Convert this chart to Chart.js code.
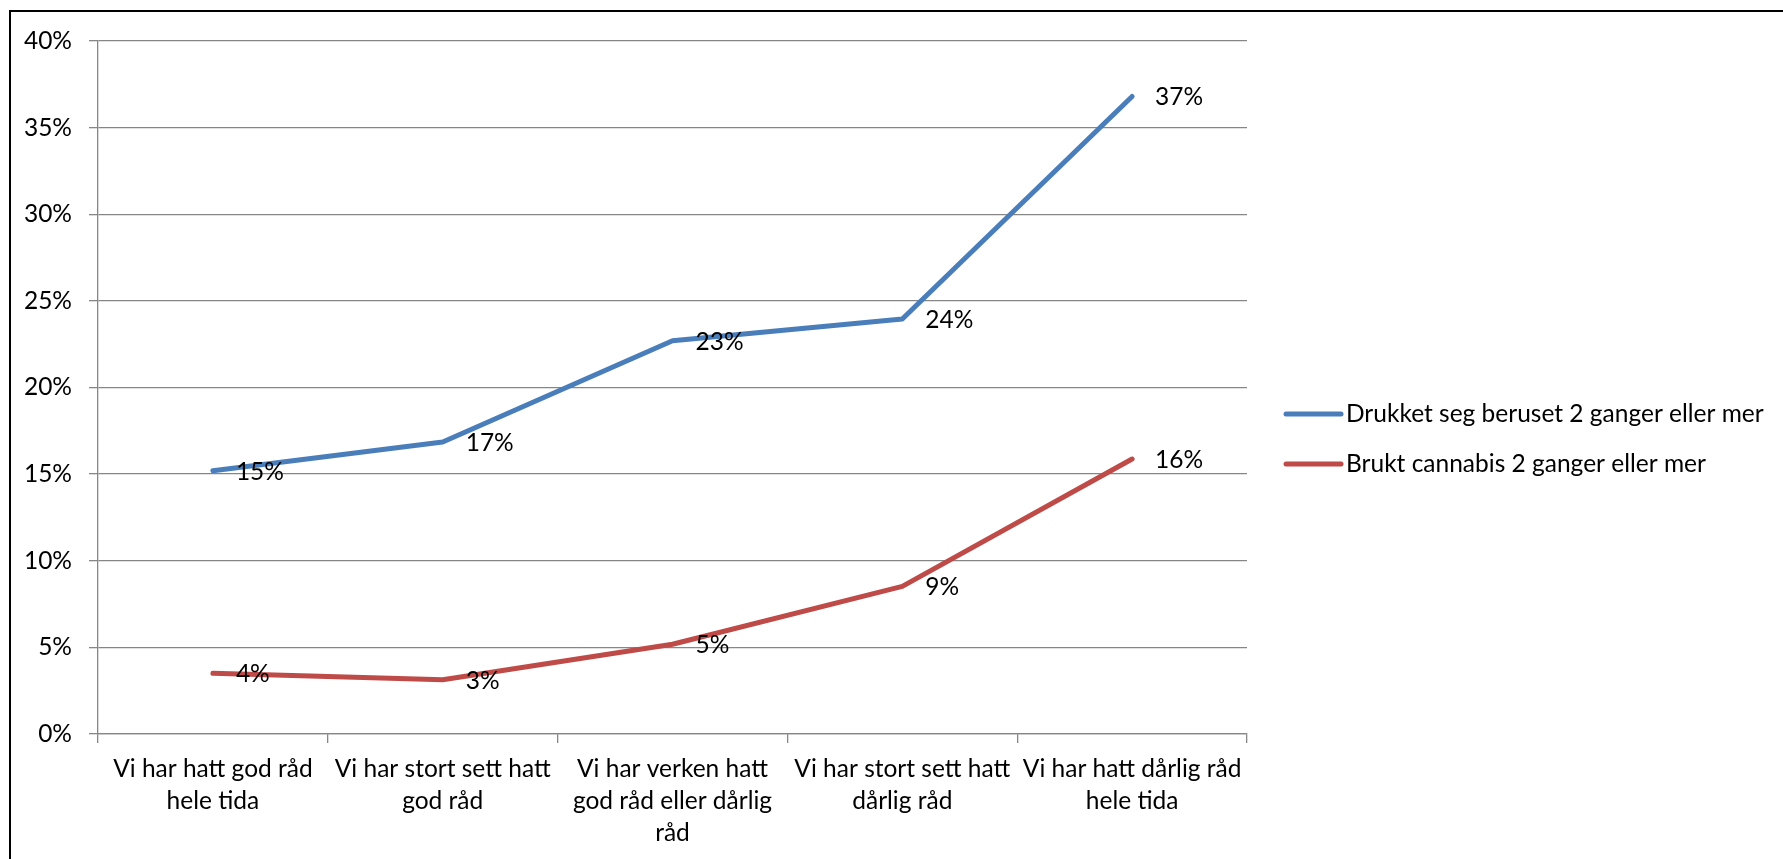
<!DOCTYPE html>
<html><head><meta charset="utf-8">
<script src="https://cdn.jsdelivr.net/npm/chart.js@4.4.1/dist/chart.umd.min.js"></script>
<style>
html,body{margin:0;padding:0;background:#fff;overflow:hidden}
#wrap{position:absolute;left:0;top:0;width:1783px;height:859px;overflow:hidden}
#frame{position:absolute;left:9px;top:10px;width:1800px;height:900px;border-top:2px solid #000;border-left:2px solid #000}
canvas{position:absolute;left:0;top:0}
</style></head><body>
<div id="wrap"><div id="frame"></div><canvas id="c" width="1783" height="859"></canvas></div>
<script>
const categories = [
  ["Vi har hatt god råd", "hele tida"],
  ["Vi har stort sett hatt", "god råd"],
  ["Vi har verken hatt", "god råd eller dårlig", "råd"],
  ["Vi har stort sett hatt", "dårlig råd"],
  ["Vi har hatt dårlig råd", "hele tida"]
];
const seriesNames = ["Drukket seg beruset 2 ganger eller mer", "Brukt cannabis 2 ganger eller mer"];
const drukketValues = [15.2, 16.85, 22.7, 23.95, 36.8];
const cannabisValues = [3.5, 3.13, 5.18, 8.52, 15.87];
const dataLabelsDrukket = ["15%", "17%", "23%", "24%", "37%"];
const dataLabelsCannabis = ["4%", "3%", "5%", "9%", "16%"];
const yTickValues = [0, 5, 10, 15, 20, 25, 30, 35, 40];
const seriesColors = ["#4A7EBB", "#BE4B48"];

const FONT = {family: "Lato, 'Open Sans', sans-serif", size: 24.5};
const fontStr = FONT.size + "px " + FONT.family;

const labelPlugin = {
  id: 'pointLabels',
  afterDatasetsDraw(chart) {
    const ctx = chart.ctx;
    ctx.save();
    ctx.font = fontStr;
    ctx.fillStyle = '#000';
    ctx.textAlign = 'left';
    ctx.textBaseline = 'middle';
    chart.data.datasets.forEach((ds, i) => {
      const meta = chart.getDatasetMeta(i);
      meta.data.forEach((pt, j) => {
        ctx.fillText(ds.pointLabels[j], pt.x + 23, pt.y + 1);
      });
    });
    ctx.restore();
  }
};

const legendPlugin = {
  id: 'customLegend',
  afterDraw(chart) {
    const ctx = chart.ctx;
    ctx.save();
    ctx.font = fontStr;
    ctx.textAlign = 'left';
    ctx.textBaseline = 'middle';
    const x0 = chart.chartArea.right + 39;
    const ys = [414, 464];
    chart.data.datasets.forEach((ds, i) => {
      const y = ys[i];
      ctx.strokeStyle = ds.borderColor;
      ctx.lineWidth = 5;
      ctx.lineCap = 'round';
      ctx.beginPath();
      ctx.moveTo(x0, y);
      ctx.lineTo(x0 + 55, y);
      ctx.stroke();
      ctx.fillStyle = '#000';
      ctx.fillText(ds.label, x0 + 60, y);
    });
    ctx.restore();
  }
};

new Chart(document.getElementById('c'), {
  type: 'line',
  data: {
    labels: categories,
    datasets: [
      {label: seriesNames[0], data: drukketValues, pointLabels: dataLabelsDrukket, borderColor: seriesColors[0], backgroundColor: seriesColors[0]},
      {label: seriesNames[1], data: cannabisValues, pointLabels: dataLabelsCannabis, borderColor: seriesColors[1], backgroundColor: seriesColors[1]}
    ]
  },
  options: {
    responsive: false,
    animation: false,
    devicePixelRatio: 1,
    layout: {padding: {left: 0, top: 41, right: 536, bottom: 0}},
    elements: {
      line: {borderWidth: 5, tension: 0, borderCapStyle: 'round', borderJoinStyle: 'round'},
      point: {radius: 0, hoverRadius: 0}
    },
    plugins: {legend: {display: false}, tooltip: {enabled: false}},
    scales: {
      x: {
        offset: true,
        grid: {offset: true, drawOnChartArea: false, drawTicks: true, tickLength: 9, color: '#868686', lineWidth: 1.3},
        border: {display: true, color: '#868686', width: 1.3},
        ticks: {font: {family: FONT.family, size: FONT.size, lineHeight: 1.3}, color: '#000', padding: 10, maxRotation: 0, minRotation: 0, autoSkip: false},
        afterFit(s) { s.height = 125; }
      },
      y: {
        min: 0, max: 40,
        afterBuildTicks(s) { s.ticks = yTickValues.map(v => ({value: v})); },
        ticks: {font: {family: FONT.family, size: FONT.size}, color: '#000', padding: 17, callback: v => v + '%'},
        grid: {color: '#868686', lineWidth: 1.3, tickLength: 9, drawTicks: true},
        border: {display: true, color: '#868686', width: 1.3},
        afterFit(s) { s.width = 98; }
      }
    }
  },
  plugins: [labelPlugin, legendPlugin]
});
</script>
</body></html>
